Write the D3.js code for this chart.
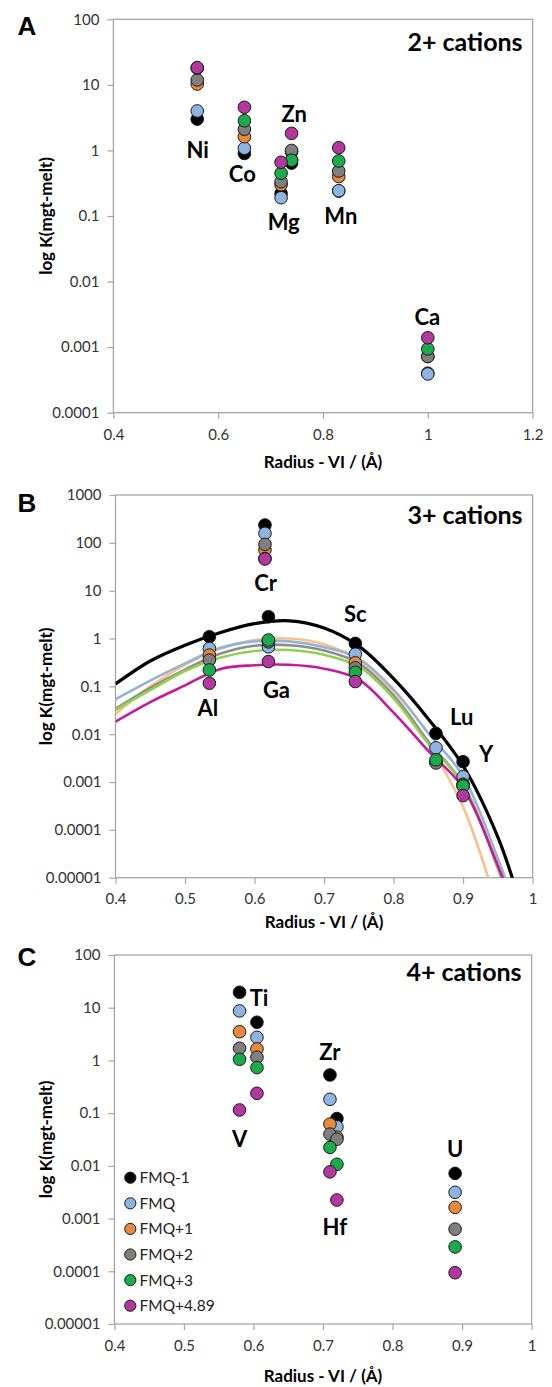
<!DOCTYPE html>
<html>
<head>
<meta charset="utf-8">
<script src="https://cdn.jsdelivr.net/npm/d3@7"></script>
<style>
body { margin: 0; background: #fff; }
text { font-family: Lato, "Open Sans", sans-serif; }
</style>
</head>
<body>
<svg id="chart" width="552" height="1387"></svg>
<script>
// series (oxygen fugacity)
var seriesNames = ['FMQ-1', 'FMQ', 'FMQ+1', 'FMQ+2', 'FMQ+3', 'FMQ+4.89'];
var seriesFill = ['#000000', '#8db4e2', '#e9893a', '#7f7f7f', '#1aab4b', '#b2379e'];
var curveStroke = ['#000000', '#95b3d7', '#fac090', '#8c8c8c', '#92d050', '#c8189b'];

// A: 2+ cations
var elementsA = ['Ni', 'Co', 'Mg', 'Zn', 'Mn', 'Ca'];
var radiusA = [0.56, 0.65, 0.72, 0.74, 0.83, 1.0];
var kA = [
	[3.0, 0.90, 0.22, 0.64, 0.24, 0.0004],
	[4.0, 1.08, 0.19, 0.72, 0.243, 0.00039],
	[10.3, 1.62, 0.30, 0.95, 0.40, 0.00072],
	[11.9, 2.1, 0.333, 1.0, 0.485, 0.00072],
	[18.0, 2.84, 0.45, 0.71, 0.69, 0.00094],
	[18.3, 4.55, 0.66, 1.82, 1.10, 0.00139]
];
var labelsA = [['Ni', 0.561, 1.0], ['Co', 0.646, 0.44], ['Zn', 0.745, 3.6],
	['Mg', 0.725, 0.081], ['Mn', 0.834, 0.10], ['Ca', 0.999, 0.0029]];
var xTicksA = ['0.4', '0.6', '0.8', '1', '1.2'];
var yTicksA = ['0.0001', '0.001', '0.01', '0.1', '1', '10', '100'];

// B: 3+ cations
var elementsB = ['Al', 'Cr', 'Ga', 'Sc', 'Lu', 'Y'];
var radiusB = [0.535, 0.615, 0.62, 0.745, 0.861, 0.90];
var kB = [
	[1.09, 236, 2.86, 0.79, 0.0104, 0.00266],
	[0.62, 158, 0.67, 0.47, 0.0052, 0.00129],
	[0.45, 71, 0.88, 0.31, 0.0026, 0.0009],
	[0.355, 93, 0.85, 0.245, 0.0025, 0.00085],
	[0.22, 47, 0.93, 0.197, 0.0029, 0.00083],
	[0.116, 46, 0.33, 0.126, null, 0.00052]
];
var labelsB = [['Cr', 0.616, 14.5], ['Sc', 0.745, 3.26], ['Ga', 0.6315, 0.084],
	['Al', 0.533, 0.0353], ['Lu', 0.898, 0.0232], ['Y', 0.933, 0.0038]];
var xTicksB = ['0.4', '0.5', '0.6', '0.7', '0.8', '0.9', '1'];
var yTicksB = ['0.00001', '0.0001', '0.001', '0.01', '0.1', '1', '10', '100', '1000'];

// lattice strain curves, log10 K
var curveR = [0.40, 0.45, 0.50, 0.55, 0.60, 0.65, 0.70, 0.75, 0.80, 0.85, 0.90, 0.95, 0.975];
var curveLogK = [
	[-0.95, -0.47, -0.14, 0.12, 0.31, 0.37, 0.22, -0.16, -0.84, -1.68, -2.66, -4.15, -5.2],
	[-1.27, -0.88, -0.52, -0.20, -0.06, -0.06, -0.18, -0.42, -1.07, -1.98, -2.88, -4.6, -5.6],
	[-1.58, -1.00, -0.55, -0.22, -0.03, 0.0, -0.12, -0.45, -1.15, -2.2, -3.52, -5.6, -6.6],
	[-1.47, -1.03, -0.65, -0.32, -0.15, -0.14, -0.25, -0.52, -1.20, -2.15, -3.05, -4.8, -5.9],
	[-1.49, -1.08, -0.68, -0.40, -0.26, -0.24, -0.34, -0.59, -1.25, -2.2, -3.05, -4.8, -5.9],
	[-1.74, -1.33, -0.98, -0.64, -0.56, -0.55, -0.63, -0.86, -1.55, -2.35, -3.12, -4.75, -5.7]
];

// C: 4+ cations
var elementsC = ['V', 'Ti', 'Hf', 'Zr', 'U'];
var radiusC = [0.58, 0.605, 0.71, 0.72, 0.89];
var kC = [
	[19.6, 5.3, 0.53, 0.079, 0.0072],
	[8.7, 2.74, 0.183, 0.055, 0.00315],
	[3.5, 1.65, 0.062, 0.035, 0.00163],
	[1.7, 1.15, 0.040, 0.032, 0.00063],
	[1.05, 0.73, 0.0224, 0.0107, 0.00029],
	[0.115, 0.238, 0.0077, 0.00225, 0.000094]
];
var labelsC = [['Ti', 0.608, 15.1], ['V', 0.58, 0.032], ['Zr', 0.71, 1.46],
	['Hf', 0.717, 0.0007], ['U', 0.89, 0.0206]];
var xTicksC = ['0.4', '0.5', '0.6', '0.7', '0.8', '0.9', '1'];
var yTicksC = ['0.00001', '0.0001', '0.001', '0.01', '0.1', '1', '10', '100'];


var svg = d3.select('#chart');
var frameColor = '#a6a6a6';

function drawPanel(cfg) {
	var x = d3.scaleLinear().domain(cfg.xDomain).range([cfg.left, cfg.right]);
	var y = d3.scaleLog().domain(cfg.yDomain).range([cfg.bottom, cfg.top]);
	var g = svg.append('g');

	var yAxis = d3.axisLeft(y)
		.tickValues(cfg.yTicks.map(Number))
		.tickFormat(function(d, i) { return cfg.yTicks[i]; })
		.tickSize(6).tickPadding(8);
	var xAxis = d3.axisBottom(x)
		.tickValues(cfg.xTicks.map(Number))
		.tickFormat(function(d, i) { return cfg.xTicks[i]; })
		.tickSize(6).tickPadding(cfg.xPad);

	g.append('g').attr('transform', 'translate(' + cfg.left + ',0)').call(yAxis);
	g.append('g').attr('transform', 'translate(0,' + cfg.bottom + ')').call(xAxis);
	g.selectAll('.domain').remove();
	g.selectAll('.tick line').attr('stroke', frameColor).attr('stroke-width', 1.2);
	g.selectAll('.tick text').attr('fill', '#333').style('font-size', '15px')
		.style('font-family', 'Lato, sans-serif');

	g.append('rect')
		.attr('x', cfg.left).attr('y', cfg.top)
		.attr('width', cfg.right - cfg.left).attr('height', cfg.bottom - cfg.top)
		.attr('fill', 'none').attr('stroke', frameColor).attr('stroke-width', 1.3);

	// titles
	g.append('text')
		.attr('x', (cfg.left + cfg.right) / 2).attr('y', cfg.bottom + cfg.xTitleDy)
		.attr('text-anchor', 'middle').attr('dy', '0.36em')
		.attr('font-size', 17).attr('font-weight', 700)
		.text('Radius - VI / (Å)');
	g.append('text')
		.attr('transform', 'translate(46,' + (cfg.top + cfg.bottom) / 2 + ') rotate(-90)')
		.attr('text-anchor', 'middle').attr('dy', '0.35em')
		.attr('font-size', 17).attr('font-weight', 700)
		.text('log K(mgt-melt)');
	g.append('text')
		.attr('x', 27).attr('y', cfg.top + cfg.letterDy)
		.attr('text-anchor', 'middle').attr('dy', '0.36em')
		.style('font-family', '"Liberation Sans", Arial, sans-serif')
		.attr('font-size', 26).attr('font-weight', 700)
		.text(cfg.letter);
	g.append('text')
		.attr('x', cfg.right - 10).attr('y', cfg.top + cfg.titleDy)
		.attr('text-anchor', 'end').attr('dy', '0.36em')
		.attr('font-size', 25).attr('font-weight', 700)
		.text(cfg.title);

	return {x: x, y: y, g: g};
}

function drawCurves(p, clipId) {
	p.g.append('clipPath').attr('id', clipId)
		.append('rect')
		.attr('x', p.x.range()[0]).attr('y', p.y.range()[1])
		.attr('width', p.x.range()[1] - p.x.range()[0])
		.attr('height', p.y.range()[0] - p.y.range()[1]);
	var line = d3.line()
		.x(function(d) { return p.x(d[0]); })
		.y(function(d) { return p.y(Math.pow(10, d[1])); })
		.curve(d3.curveCatmullRom.alpha(0.5));
	var cg = p.g.append('g').attr('clip-path', 'url(#' + clipId + ')');
	// coloured curves first, black on top
	[2, 1, 3, 4, 5, 0].forEach(function(s) {
		cg.append('path')
			.datum(curveR.map(function(r, i) { return [r, curveLogK[s][i]]; }))
			.attr('d', line)
			.attr('fill', 'none')
			.attr('stroke', curveStroke[s])
			.attr('stroke-width', s == 0 ? 3.2 : 2.6);
	});
}

function drawPoints(p, radius, k) {
	k.forEach(function(row, s) {
		row.forEach(function(v, i) {
			if (v == null) return;
			p.g.append('circle')
				.attr('cx', p.x(radius[i])).attr('cy', p.y(v))
				.attr('r', 6.3)
				.attr('fill', seriesFill[s])
				.attr('stroke', '#1a1a1a').attr('stroke-width', 1);
		});
	});
}

function drawLabels(p, labels) {
	p.g.selectAll(null).data(labels).enter().append('text')
		.attr('x', function(d) { return p.x(d[1]); })
		.attr('y', function(d) { return p.y(d[2]); })
		.attr('dy', '0.36em').attr('text-anchor', 'middle')
		.attr('font-size', 22).attr('font-weight', 700)
		.text(function(d) { return d[0]; });
}


var pA = drawPanel({left: 113.4, right: 532.6, top: 19.3, bottom: 412.7,
	xDomain: [0.4, 1.2], yDomain: [1e-4, 100], xTicks: xTicksA, yTicks: yTicksA,
	xPad: 11, xTitleDy: 49,
	letter: 'A', letterDy: 6, title: '2+ cations', titleDy: 23});
drawPoints(pA, radiusA, kA);
drawLabels(pA, labelsA);

var pB = drawPanel({left: 115.5, right: 532.6, top: 495, bottom: 877.7,
	xDomain: [0.4, 1.0], yDomain: [1e-5, 1000], xTicks: xTicksB, yTicks: yTicksB,
	xPad: 10, xTitleDy: 44,
	letter: 'B', letterDy: 8, title: '3+ cations', titleDy: 20});
drawCurves(pB, 'clipB');
drawPoints(pB, radiusB, kB);
drawLabels(pB, labelsB);

var pC = drawPanel({left: 114.4, right: 531.6, top: 955, bottom: 1324,
	xDomain: [0.4, 1.0], yDomain: [1e-5, 100], xTicks: xTicksC, yTicks: yTicksC,
	xPad: 10, xTitleDy: 52,
	letter: 'C', letterDy: 2, title: '4+ cations', titleDy: 17});
drawPoints(pC, radiusC, kC);
drawLabels(pC, labelsC);

// legend
var legend = pC.g.append('g');
seriesNames.forEach(function(name, s) {
	var ly = 1177.7 + s * 25.6;
	legend.append('circle')
		.attr('cx', 130.3).attr('cy', ly).attr('r', 5.6)
		.attr('fill', seriesFill[s]).attr('stroke', '#1a1a1a').attr('stroke-width', 1);
	legend.append('text')
		.attr('x', 139.5).attr('y', ly).attr('dy', '0.36em')
		.attr('font-size', 15.5).attr('fill', '#222')
		.text(name);
});
</script>
</body>
</html>
